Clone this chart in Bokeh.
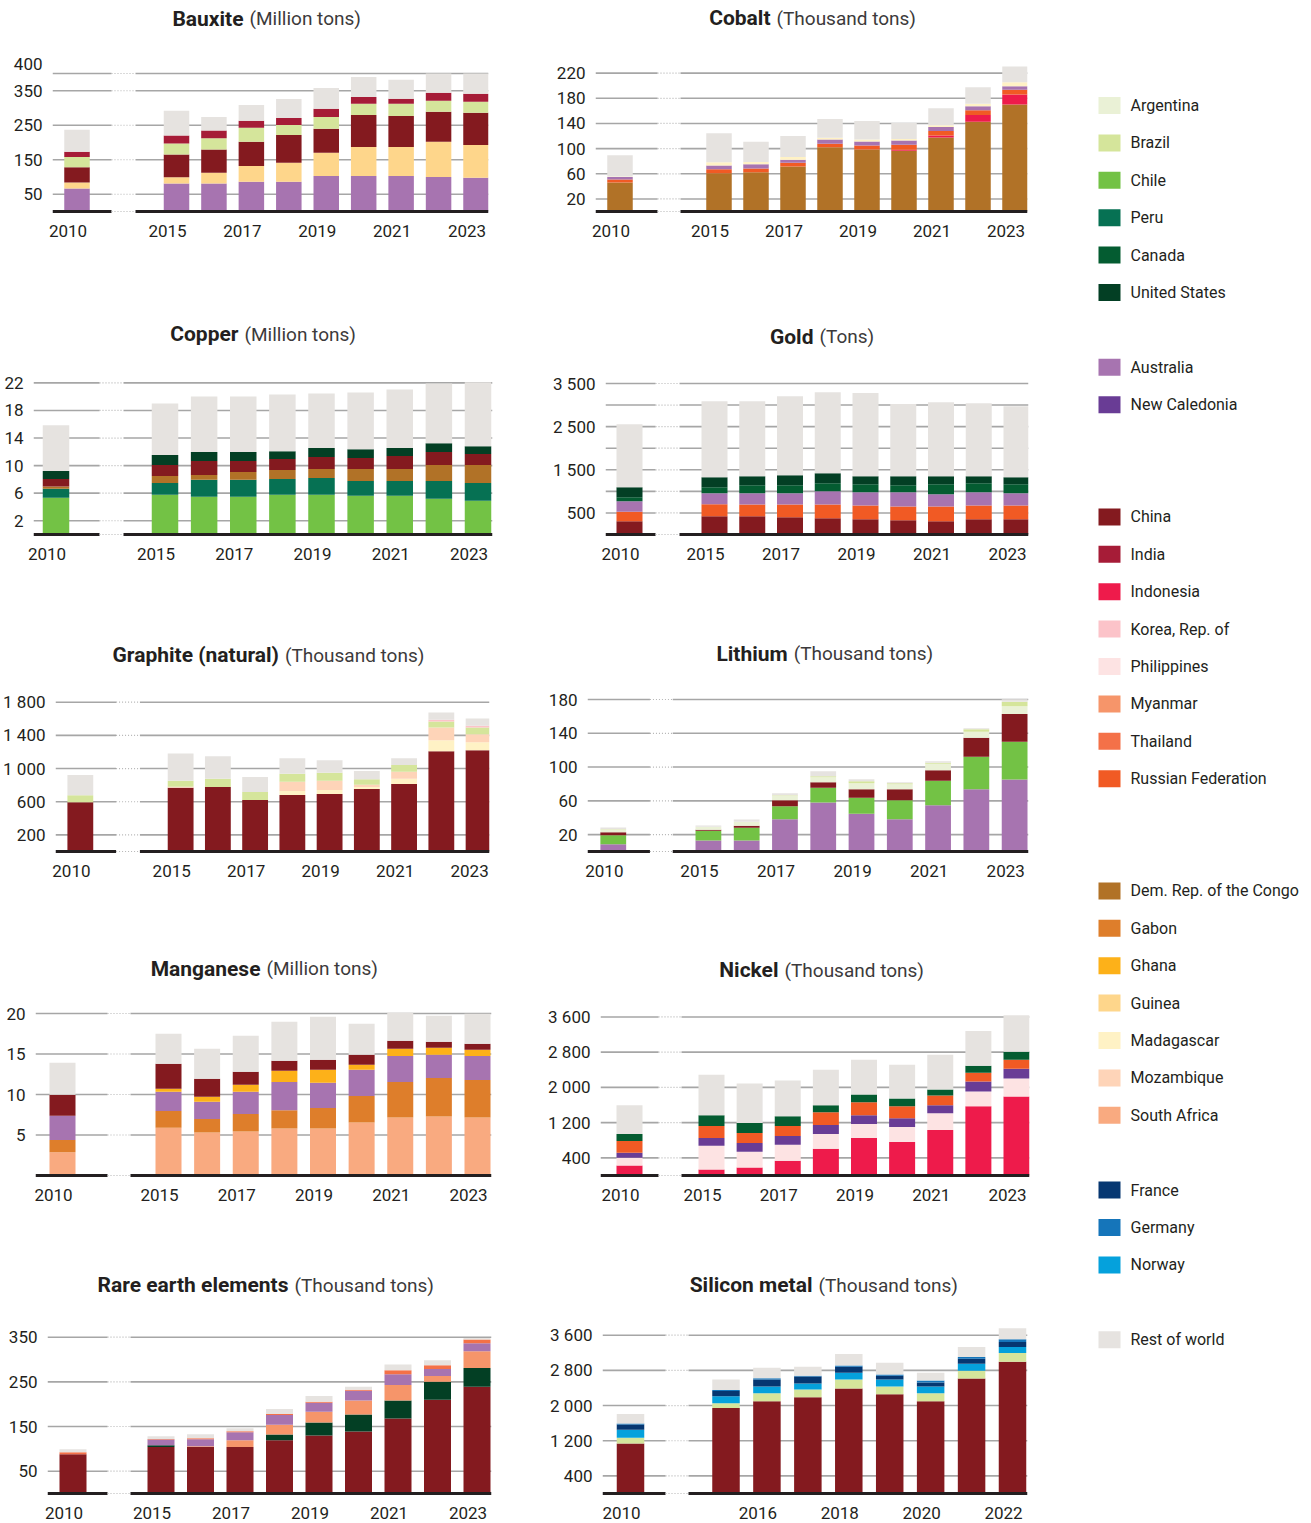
from bokeh.plotting import figure
from bokeh.models import ColumnDataSource, Range1d, FixedTicker, Label
from bokeh.layouts import row, column
from bokeh.embed import file_html
from bokeh.resources import INLINE
from bokeh.core.properties import value

FONT = "Roboto"
INK = "#231F20"
GRID = "#A6A6A6"
DOT = "#B5B5B5"

COLORS = {
    "Argentina": "#EAF1D6", "Brazil": "#D5E59B", "Chile": "#73C245", "Peru": "#067153",
    "Canada": "#045C31", "United States": "#033F24",
    "Australia": "#A774B0", "New Caledonia": "#693C95",
    "China": "#841A1F", "India": "#A61C37", "Indonesia": "#EE1B4B", "Korea, Rep. of": "#FCC3C9",
    "Philippines": "#FDE3E3", "Myanmar": "#F6956A", "Thailand": "#F47148", "Russian Federation": "#F15A24",
    "Dem. Rep. of the Congo": "#B17227", "Gabon": "#DE7E2B", "Ghana": "#FDB119", "Guinea": "#FED68B",
    "Madagascar": "#FFF2C5", "Mozambique": "#FED4B8", "South Africa": "#F9AA80",
    "France": "#063771", "Germany": "#1575BA", "Norway": "#05A1DC",
    "Rest of world": "#E6E3E0",
}

# ---------------- data ----------------
YEARS = [2010, 2015, 2016, 2017, 2018, 2019, 2020, 2021, 2022, 2023]
LABEL_YEARS = [2010, 2015, 2017, 2019, 2021, 2023]
SILICON_YEARS = [2010, 2015, 2016, 2017, 2018, 2019, 2020, 2021, 2022]
SILICON_LABEL_YEARS = [2010, 2016, 2018, 2020, 2022]

bauxite_australia = [67, 81, 81, 86, 86, 103, 103, 103, 100, 98]
bauxite_guinea = [17, 18, 31, 46, 55, 67, 84, 84, 102, 95]
bauxite_china = [44, 66, 68, 70, 81, 70, 93, 90, 87, 93]
bauxite_brazil = [30, 32, 32, 41, 29, 34, 32, 35, 32, 32]
bauxite_india = [15, 23, 23, 20, 20, 24, 20, 15, 23, 23]
bauxite_rest = [64, 72, 39, 46, 55, 60, 58, 55, 56, 59]
BAUXITE_TICKS = [50, 150, 250, 350, 400]
BAUXITE_LABELS = [50, 150, 250, 350]

cobalt_drc = [46, 61, 62.5, 71.4, 102, 98.7, 96.6, 117.6, 142.8, 170]
cobalt_indonesia = [0, 0, 0, 0, 0, 0, 1.6, 3.2, 10.5, 16]
cobalt_russia = [5, 6.3, 5.8, 6.3, 5.7, 6.3, 7.8, 7.2, 7.9, 7.8]
cobalt_australia = [4, 5.8, 6.7, 4.7, 6.9, 6.3, 7, 6.4, 6.3, 5.3]
cobalt_madagascar = [0.5, 5.3, 3.8, 4.2, 2.5, 3.2, 2.5, 2.6, 3.7, 6.3]
cobalt_rest = [34, 46, 32, 33.6, 30, 29.4, 25.2, 27.3, 26.2, 25.2]
COBALT_TICKS = [20, 60, 100, 140, 180, 220]

copper_chile = [5.33, 5.76, 5.48, 5.48, 5.76, 5.76, 5.62, 5.62, 5.19, 4.9]
copper_peru = [1.3, 1.73, 2.45, 2.45, 2.31, 2.45, 2.16, 2.16, 2.59, 2.59]
copper_drc = [0.33, 1.01, 0.72, 1.15, 1.3, 1.3, 1.73, 1.73, 2.31, 2.6]
copper_china = [1.1, 1.59, 2.01, 1.58, 1.58, 1.73, 1.59, 1.87, 1.87, 1.58]
copper_us = [1.15, 1.44, 1.3, 1.3, 1.15, 1.3, 1.29, 1.16, 1.3, 1.15]
copper_rest = [6.63, 7.49, 8.07, 8.07, 8.22, 7.92, 8.21, 8.5, 8.64, 9.28]
COPPER_TICKS = [2, 6, 10, 14, 18, 22]

gold_china = [309, 425, 425, 402, 379, 355, 332, 309, 355, 355]
gold_russia = [216, 278, 271, 294, 317, 317, 317, 340, 317, 317]
gold_australia = [248, 255, 262, 262, 309, 309, 332, 286, 309, 286]
gold_canada = [93, 139, 186, 186, 185, 186, 163, 232, 209, 209]
gold_us = [231, 232, 208, 232, 232, 185, 208, 185, 162, 162]
gold_rest = [1461, 1762, 1739, 1831, 1878, 1925, 1670, 1716, 1693, 1646]
GOLD_TICKS = [500, 1000, 1500, 2000, 2500, 3000, 3500]
GOLD_LABELS = [500, 1500, 2500, 3500]

graphite_china = [595, 770, 778, 622, 682, 694, 754, 814, 1209, 1221]
graphite_madagascar = [0, 0, 0, 0, 48, 48, 24, 64, 132, 96]
graphite_mozambique = [0, 12, 0, 0, 112, 112, 28, 84, 155, 96]
graphite_brazil = [83, 72, 100, 96, 96, 96, 64, 80, 72, 83]
graphite_korea = [0, 0, 0, 0, 0, 0, 0, 0, 20, 20]
graphite_rest = [244, 327, 271, 180, 187, 151, 100, 83, 88, 88]
GRAPHITE_TICKS = [200, 600, 1000, 1400, 1800]

lithium_australia = [8.7, 13, 13, 38.3, 58, 44.6, 38.3, 54.9, 73.8, 85.3]
lithium_chile = [10.6, 11.5, 15, 15.4, 17.4, 19, 22.5, 28.8, 38.3, 44.6]
lithium_china = [3.6, 1.2, 2.4, 7.1, 6.7, 10.2, 13, 12.6, 22.5, 32.8]
lithium_argentina = [2.8, 3.5, 4.7, 5.1, 5.9, 7.1, 5.9, 7.5, 7.1, 9.4]
lithium_brazil = [0.7, 0, 0, 0.8, 1.2, 2.4, 1.2, 1.2, 3.2, 5.2]
lithium_rest = [2.0, 1.6, 2.8, 2.3, 5.9, 2.4, 1.2, 2.0, 1.1, 3.1]
LITHIUM_TICKS = [20, 60, 100, 140, 180]

manganese_south_africa = [2.87, 5.91, 5.3, 5.42, 5.79, 5.79, 6.53, 7.15, 7.27, 7.15]
manganese_gabon = [1.52, 2.06, 1.68, 2.18, 2.26, 2.55, 3.29, 4.39, 4.76, 4.64]
manganese_australia = [3.0, 2.38, 2.14, 2.75, 3.49, 3.12, 3.24, 3.2, 2.88, 2.95]
manganese_ghana = [0, 0.37, 0.61, 0.86, 1.4, 1.6, 0.62, 0.91, 0.86, 0.78]
manganese_china = [2.59, 3.08, 2.22, 1.6, 1.23, 1.23, 1.23, 0.98, 0.74, 0.74]
manganese_rest = [3.94, 3.69, 3.7, 4.44, 4.8, 5.3, 3.82, 3.45, 3.2, 3.7]
MANGANESE_TICKS = [5, 10, 15, 20]

nickel_indonesia = [225, 135, 180, 337, 606, 853, 763, 1033, 1572, 1796]
nickel_philippines = [179, 539, 359, 359, 337, 315, 337, 382, 337, 405]
nickel_new_caledonia = [112, 179, 202, 202, 202, 202, 202, 179, 224, 224]
nickel_russia = [270, 270, 225, 225, 292, 292, 270, 225, 202, 202]
nickel_canada = [157, 247, 224, 224, 157, 179, 179, 135, 158, 180]
nickel_rest = [651, 920, 898, 809, 809, 786, 764, 786, 785, 831]
NICKEL_TICKS = [400, 1200, 2000, 2800, 3600]

ree_china = [88, 104, 104, 104, 119, 130, 139, 168, 210, 239]
ree_us = [0, 4, 0, 0, 13, 29, 38, 40, 40, 42]
ree_myanmar = [0, 0, 2, 15.5, 22, 24, 31, 35, 13, 37.5]
ree_australia = [0, 13, 15.5, 17.7, 22, 20, 22, 24, 16, 17.7]
ree_thailand = [4.5, 1, 2.2, 2.2, 2.2, 2.2, 2.2, 8.8, 8.1, 8.9]
ree_rest = [6.6, 6, 8.8, 6.6, 11, 13.3, 6.7, 13.3, 11.1, 2.9]
REE_TICKS = [50, 150, 250, 350]

silicon_china = [1135, 1942, 2099, 2188, 2390, 2255, 2099, 2614, 2995]
silicon_brazil = [135, 112, 179, 179, 202, 180, 179, 179, 201]
silicon_norway = [179, 157, 157, 135, 156, 157, 157, 157, 135]
silicon_france = [119, 119, 157, 157, 135, 89, 89, 112, 112]
silicon_germany = [23, 23, 29, 22, 30, 23, 45, 45, 67]
silicon_rest = [216, 239, 239, 202, 261, 268, 179, 224, 247]
SILICON_TICKS = [400, 1200, 2000, 2800, 3600]

PANELS = [
    ("Bauxite", "(Million tons)", YEARS, LABEL_YEARS, BAUXITE_TICKS, BAUXITE_LABELS,
     [("Australia", bauxite_australia), ("Guinea", bauxite_guinea), ("China", bauxite_china),
      ("Brazil", bauxite_brazil), ("India", bauxite_india), ("Rest of world", bauxite_rest)]),
    ("Cobalt", "(Thousand tons)", YEARS, LABEL_YEARS, COBALT_TICKS, COBALT_TICKS,
     [("Dem. Rep. of the Congo", cobalt_drc), ("Indonesia", cobalt_indonesia),
      ("Russian Federation", cobalt_russia), ("Australia", cobalt_australia),
      ("Madagascar", cobalt_madagascar), ("Rest of world", cobalt_rest)]),
    ("Copper", "(Million tons)", YEARS, LABEL_YEARS, COPPER_TICKS, COPPER_TICKS,
     [("Chile", copper_chile), ("Peru", copper_peru), ("Dem. Rep. of the Congo", copper_drc),
      ("China", copper_china), ("United States", copper_us), ("Rest of world", copper_rest)]),
    ("Gold", "(Tons)", YEARS, LABEL_YEARS, GOLD_TICKS, GOLD_LABELS,
     [("China", gold_china), ("Russian Federation", gold_russia), ("Australia", gold_australia),
      ("Canada", gold_canada), ("United States", gold_us), ("Rest of world", gold_rest)]),
    ("Graphite (natural)", "(Thousand tons)", YEARS, LABEL_YEARS, GRAPHITE_TICKS, GRAPHITE_TICKS,
     [("China", graphite_china), ("Madagascar", graphite_madagascar), ("Mozambique", graphite_mozambique),
      ("Brazil", graphite_brazil), ("Korea, Rep. of", graphite_korea), ("Rest of world", graphite_rest)]),
    ("Lithium", "(Thousand tons)", YEARS, LABEL_YEARS, LITHIUM_TICKS, LITHIUM_TICKS,
     [("Australia", lithium_australia), ("Chile", lithium_chile), ("China", lithium_china),
      ("Argentina", lithium_argentina), ("Brazil", lithium_brazil), ("Rest of world", lithium_rest)]),
    ("Manganese", "(Million tons)", YEARS, LABEL_YEARS, MANGANESE_TICKS, MANGANESE_TICKS,
     [("South Africa", manganese_south_africa), ("Gabon", manganese_gabon), ("Australia", manganese_australia),
      ("Ghana", manganese_ghana), ("China", manganese_china), ("Rest of world", manganese_rest)]),
    ("Nickel", "(Thousand tons)", YEARS, LABEL_YEARS, NICKEL_TICKS, NICKEL_TICKS,
     [("Indonesia", nickel_indonesia), ("Philippines", nickel_philippines),
      ("New Caledonia", nickel_new_caledonia), ("Russian Federation", nickel_russia),
      ("Canada", nickel_canada), ("Rest of world", nickel_rest)]),
    ("Rare earth elements", "(Thousand tons)", YEARS, LABEL_YEARS, REE_TICKS, REE_TICKS,
     [("China", ree_china), ("United States", ree_us), ("Myanmar", ree_myanmar),
      ("Australia", ree_australia), ("Thailand", ree_thailand), ("Rest of world", ree_rest)]),
    ("Silicon metal", "(Thousand tons)", SILICON_YEARS, SILICON_LABEL_YEARS, SILICON_TICKS, SILICON_TICKS,
     [("China", silicon_china), ("Brazil", silicon_brazil), ("Norway", silicon_norway),
      ("France", silicon_france), ("Germany", silicon_germany), ("Rest of world", silicon_rest)]),
]

LEGEND_GROUPS = [
    ["Argentina", "Brazil", "Chile", "Peru", "Canada", "United States"],
    ["Australia", "New Caledonia"],
    ["China", "India", "Indonesia", "Korea, Rep. of", "Philippines", "Myanmar", "Thailand", "Russian Federation"],
    ["Dem. Rep. of the Congo", "Gabon", "Ghana", "Guinea", "Madagascar", "Mozambique", "South Africa"],
    ["France", "Germany", "Norway"],
    ["Rest of world"],
]

# ---------------- layout (page pixels) ----------------
COL_X = [(0, 545), (545, 1085)]
ROW_Y = [(0, 318), (318, 637), (637, 953), (953, 1272), (1272, 1521)]
LEGEND_X = (1085, 1305)
LEGEND_GAPS = [1, 2, 2, 1, 1]

LAYOUT = {
    "Bauxite": dict(col=0, row=0, fl=52, fr=488, c0=76.5, c1=176, cn=475.5, bar=25.5, brk=(111, 135), base=211, top=73, ty=18, split=246, raised=(400, 10)),
    "Cobalt": dict(col=1, row=0, fl=595, fr=1027, c0=619.5, c1=718.5, cn=1014.5, bar=25.5, brk=(657, 680), base=212, top=73, ty=18, split=773),
    "Copper": dict(col=0, row=1, fl=33, fr=492, c0=55.5, c1=164.5, cn=477.5, bar=26.5, brk=(99, 123), base=536, top=383, ty=334, split=241),
    "Gold": dict(col=1, row=1, fl=605, fr=1028, c0=629, c1=714, cn=1016, bar=26, brk=(655, 679), base=534, top=383, ty=336, split=816),
    "Graphite (natural)": dict(col=0, row=2, fl=52, fr=489, c0=77, c1=178, cn=478, bar=26, brk=(113, 137), base=852, top=702, ty=655, split=280),
    "Lithium": dict(col=1, row=2, fl=583, fr=1028, c0=609, c1=705, cn=1014, bar=26, brk=(646, 669), base=851, top=699, ty=653, split=788),
    "Manganese": dict(col=0, row=3, fl=35, fr=491, c0=62, c1=168, cn=477, bar=26, brk=(107, 130), base=1175, top=1013, ty=968, split=263),
    "Nickel": dict(col=1, row=3, fl=600, fr=1029, c0=629, c1=711, cn=1016, bar=26, brk=(658, 681), base=1177, top=1017, ty=970, split=781),
    "Rare earth elements": dict(col=0, row=4, fl=47, fr=491, c0=72.5, c1=160.5, cn=476.5, bar=27, brk=(107, 130), base=1494, top=1337, ty=1285, split=291),
    "Silicon metal": dict(col=1, row=4, fl=602, fr=1027, c0=630, c1=725.5, cn=1012, bar=27.5, brk=(665, 688), base=1494, top=1335, ty=1285, split=815),
}

TICK_SIZE = "17px"


def fmt(t):
    return f"{t:,}".replace(",", " ")


def make_panel(name, unit, years, label_years, ticks, labelled, series):
    L = LAYOUT[name]
    fx0, fx1 = COL_X[L["col"]]
    fy0, fy1 = ROW_Y[L["row"]]
    n_later = len(years) - 1
    step = (L["cn"] - L["c1"]) / (n_later - 1)
    gap = (L["c1"] - L["c0"]) / step

    def to_x(px):
        return (px - L["c0"]) / step

    xs = [0.0] + [gap + i for i in range(n_later)]
    scale = (L["base"] - L["top"]) / max(ticks)
    y0 = -2.0 / scale
    y1 = (L["base"] - fy0) / scale
    x0, x1 = to_x(L["fl"]), to_x(L["fr"])
    b0, b1 = to_x(L["brk"][0]), to_x(L["brk"][1])

    p = figure(width=fx1 - fx0, height=fy1 - fy0,
               x_range=Range1d(x0, x1), y_range=Range1d(y0, y1),
               output_backend="svg", toolbar_location=None,
               min_border_left=int(round(L["fl"] - fx0)),
               min_border_right=int(round(fx1 - L["fr"])),
               min_border_top=0,
               min_border_bottom=int(round(fy1 - (L["base"] + 2))))
    p.outline_line_color = None
    p.xgrid.visible = False
    p.ygrid.visible = False
    p.background_fill_color = "white"
    p.border_fill_color = "white"

    # gridlines with break
    n = len(ticks)
    p.segment(x0=[x0] * n, y0=ticks, x1=[b0] * n, y1=ticks, line_color=GRID, line_width=1.6)
    p.segment(x0=[b1] * n, y0=ticks, x1=[x1] * n, y1=ticks, line_color=GRID, line_width=1.6)
    p.segment(x0=[b0] * n, y0=ticks, x1=[b1] * n, y1=ticks, line_color=DOT, line_width=1.2, line_dash="1 2")

    names = [s for s, _ in series]
    data = {"x": xs}
    for s, vals in series:
        data[s] = vals
    src = ColumnDataSource(data)
    p.vbar_stack(names, x="x", width=L["bar"] / step, fill_color=[COLORS[s] for s in names],
                 line_color=None, source=src)

    # baseline with break
    p.segment(x0=[x0, b1], y0=[0, 0], x1=[b0, x1], y1=[0, 0], line_color=INK, line_width=3)
    p.segment(x0=[b0], y0=[0], x1=[b1], y1=[0], line_color=DOT, line_width=1.2, line_dash="1 2")

    # title
    ty = (L["base"] - L["ty"]) / scale
    sx = to_x(L["split"])
    p.add_layout(Label(x=sx - 3 / step, y=ty, text=name, text_font=FONT, text_font_size="21px",
                       text_font_style="bold", text_align="right", text_baseline="middle", text_color=INK))
    p.add_layout(Label(x=sx + 3 / step, y=ty, text=unit, text_font=FONT, text_font_size="19px",
                       text_font_style="normal", text_align="left", text_baseline="middle", text_color="#3C3A3B"))

    # x axis
    xt, ov = [], {}
    for yr, x in zip(years, xs):
        if yr in label_years:
            t = round(x - 9 / step, 4)
            xt.append(t)
            ov[t] = str(yr)
    p.xaxis.ticker = FixedTicker(ticks=xt)
    p.xaxis.major_label_overrides = ov

    # y axis (optionally on a slightly shifted label range so the top label sits above its line)
    yax = p.yaxis[0]
    if "raised" in L:
        tv, lift = L["raised"]
        lu = lift / scale
        p.extra_y_ranges = {"lab": Range1d(y0 - lu, y1 - lu)}
        yax.y_range_name = "lab"
        yt = [round(t - lu, 4) for t in ticks if t in labelled] + [tv]
        yov = {round(t - lu, 4): fmt(t) for t in ticks if t in labelled}
        yov[tv] = fmt(tv)
    else:
        yt = list(ticks)
        yov = {t: (fmt(t) if t in labelled else "") for t in ticks}
    yax.ticker = FixedTicker(ticks=yt)
    yax.major_label_overrides = yov

    for ax in (p.xaxis[0], yax):
        ax.axis_line_color = None
        ax.major_tick_line_color = None
        ax.minor_tick_line_color = None
        ax.major_label_text_font = FONT
        ax.major_label_text_font_size = TICK_SIZE
        ax.major_label_text_color = INK
    p.xaxis.major_label_standoff = 5
    yax.major_label_standoff = 4
    return p


panels = [make_panel(*spec) for spec in PANELS]

# legend
lw = LEGEND_X[1] - LEGEND_X[0]
lh = ROW_Y[-1][1] - ROW_Y[0][0]
leg = figure(width=lw, height=lh, x_range=Range1d(0, lw), y_range=Range1d(lh, 0),
             output_backend="svg", toolbar_location=None, x_axis_type=None, y_axis_type=None,
             min_border=0)
leg.outline_line_color = None
names, ys = [], []
slot = 0
for gi, grp in enumerate(LEGEND_GROUPS):
    for nm in grp:
        names.append(nm)
        ys.append(105 + slot * 37.4)
        slot += 1
    if gi < len(LEGEND_GAPS):
        slot += LEGEND_GAPS[gi]
lsrc = ColumnDataSource(dict(y=ys, name=names, color=[COLORS[n] for n in names]))
leg.rect(x=24, y="y", width=22, height=17, fill_color="color", line_color=None, source=lsrc)
leg.text(x=45, y="y", text="name", text_font=value(FONT), text_font_size="16px",
         text_baseline="middle", text_color=INK, source=lsrc)

grid = column(*[row(panels[2 * i], panels[2 * i + 1]) for i in range(5)])
layout = row(grid, leg)

open("out.html", "w").write(file_html(layout, INLINE, title="Critical minerals production"))
